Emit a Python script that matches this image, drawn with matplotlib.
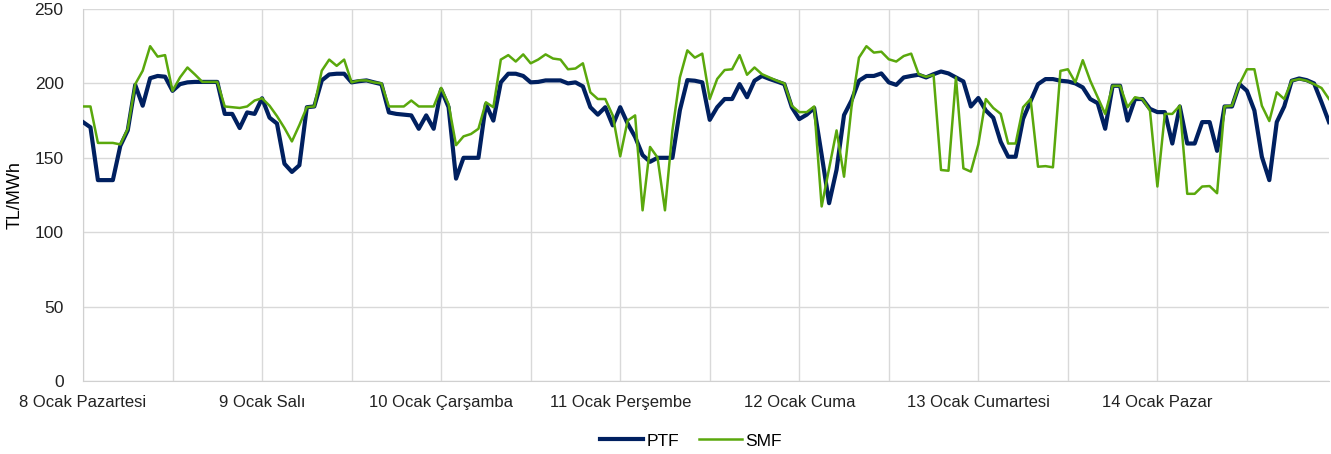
import numpy as np
import matplotlib.pyplot as plt

plt.rcParams['font.family'] = ['Liberation Sans', 'DejaVu Sans']

# Saatlik fiyatlar, 8-14 Ocak (TL/MWh)
ptf = [174, 170.5, 135, 135, 135, 158, 168.5, 199, 185, 203.5, 205, 204.5,
       195, 199.5, 200.7, 201, 201, 201, 201, 179.5, 179.5, 170, 180.5, 179.5,
       190, 177, 173, 146, 140.5, 145, 184, 184.5, 202, 206, 206.5, 206.5,
       200.7, 201.5, 202, 200.7, 199.5, 180.5, 179.5, 179, 178.5, 169.5, 178.5, 169.5,
       196, 184, 136, 150, 150, 150, 186, 175, 200.7, 206.5, 206.5, 205,
       200.7, 201, 202, 202, 202, 200, 200.7, 198, 184, 179, 184, 171.8,
       184, 173, 164, 151.8, 147.3, 150, 150, 150, 182, 202.2, 201.8, 200.7,
       175.5, 184, 189.5, 189.5, 199.5, 190.7, 201.8, 205, 203, 201.3, 199.5, 184,
       176, 179, 183.5, 152, 119.5, 142, 178.7, 188.5, 201.8, 205, 205, 206.7,
       200.7, 199, 204, 205, 205.8, 204, 206.2, 208, 206.7, 204, 201.3, 184.5,
       190.2, 181.8, 176.9, 160.7, 150.7, 150.7, 176.2, 188, 199.5, 202.9, 202.9, 201.8,
       201.3, 200, 197.3, 189.5, 186.7, 169.5, 198.4, 198.4, 175, 189.5, 189.5, 182.9,
       180.7, 180.7, 159.6, 184.5, 159.6, 159.6, 174, 174, 154.7, 184.5, 184.5, 199.5,
       195, 181.8, 150.7, 135, 174, 184.5, 201.8, 203.3, 202.2, 200, 187.3, 174]

smf = [184.5, 184.5, 160, 160, 160, 159, 169.5, 199.5, 208.5, 225, 218, 219,
       195, 204, 210.7, 206, 201, 201, 201, 184.5, 184, 183.5, 184.5, 188.5,
       190, 185, 178, 170, 161, 172, 184, 184.5, 208.5, 216, 211.8, 216,
       200.7, 202, 202, 200.7, 200, 184.5, 184.5, 184.5, 188.5, 184.5, 184.5, 184.5,
       197, 186, 158.5, 164.4, 166, 169.5, 187.3, 184, 216, 219, 214.7, 219.5,
       213.5, 216, 219.5, 216.7, 216, 209.5, 210, 213.5, 194, 189.5, 189.5, 178.5,
       151, 175, 178.5, 114.7, 157.3, 150.2, 114.7, 168.4, 204, 222.2, 217.3, 220,
       189.5, 203, 209, 209.5, 219, 205.8, 210.7, 206.2, 204, 201.8, 200, 185,
       180.7, 180.7, 184.5, 117.3, 142.9, 168.4, 137.3, 184, 217.3, 225, 220.7, 221.3,
       216.2, 214.7, 218.4, 220, 206.2, 204.4, 205.8, 141.8, 141.3, 204, 142.9, 140.7,
       159, 189.5, 183.5, 179.5, 159.6, 159.6, 184, 189.5, 144, 144.4, 143.6, 208.4,
       209.5, 200.7, 215.6, 201.8, 190.7, 179.5, 198.4, 198.4, 184, 190.7, 189.5, 181.8,
       130.7, 179.5, 179.5, 185, 125.8, 125.8, 130.7, 131, 126.2, 184.5, 185, 199.5,
       209.5, 209.5, 185, 174.7, 194, 189.5, 201.8, 202.9, 201.8, 199.5, 196.9, 189.5]

days = ['8 Ocak Pazartesi', '9 Ocak Salı', '10 Ocak Çarşamba', '11 Ocak Perşembe',
        '12 Ocak Cuma', '13 Ocak Cumartesi', '14 Ocak Pazar']

hours = np.arange(len(ptf))

fig = plt.figure(figsize=(13.31, 4.54), dpi=100)
ax = fig.add_axes([83 / 1331, 1 - 381 / 454, 1246 / 1331, 372 / 454])

ax.plot(hours, ptf, color='#002060', lw=3.0, label='PTF', zorder=3)
ax.plot(hours, smf, color='#5aa80c', lw=1.8, label='SMF', zorder=4)

ax.set_xlim(0, 167)
ax.set_ylim(0, 250)
ax.set_yticks(range(0, 251, 50))
ax.set_xticks(np.arange(0, 168, 24))
ax.set_xticklabels(days)
ax.set_xticks(np.arange(12, 168, 24), minor=True)
ax.grid(True, which='both', color='#d9d9d9', lw=1)
ax.set_axisbelow(True)
ax.tick_params(axis='x', which='both', length=0, labelsize=12, colors='#222222', pad=10)
ax.tick_params(axis='y', which='both', length=0, labelsize=12.5, colors='#222222', pad=14)

for side in ['top', 'right']:
    ax.spines[side].set_visible(False)
for side in ['left', 'bottom']:
    ax.spines[side].set_color('#d0d0d0')

ax.set_ylabel('TL/MWh', fontsize=13, labelpad=8)

ax.legend(loc='center', bbox_to_anchor=((691 - 83) / 1246, (381 - 441) / 372), ncol=2,
          frameon=False, fontsize=12.5, handlelength=2.5, columnspacing=1.1,
          handletextpad=0.2)

fig.savefig('out.png', dpi=100)
